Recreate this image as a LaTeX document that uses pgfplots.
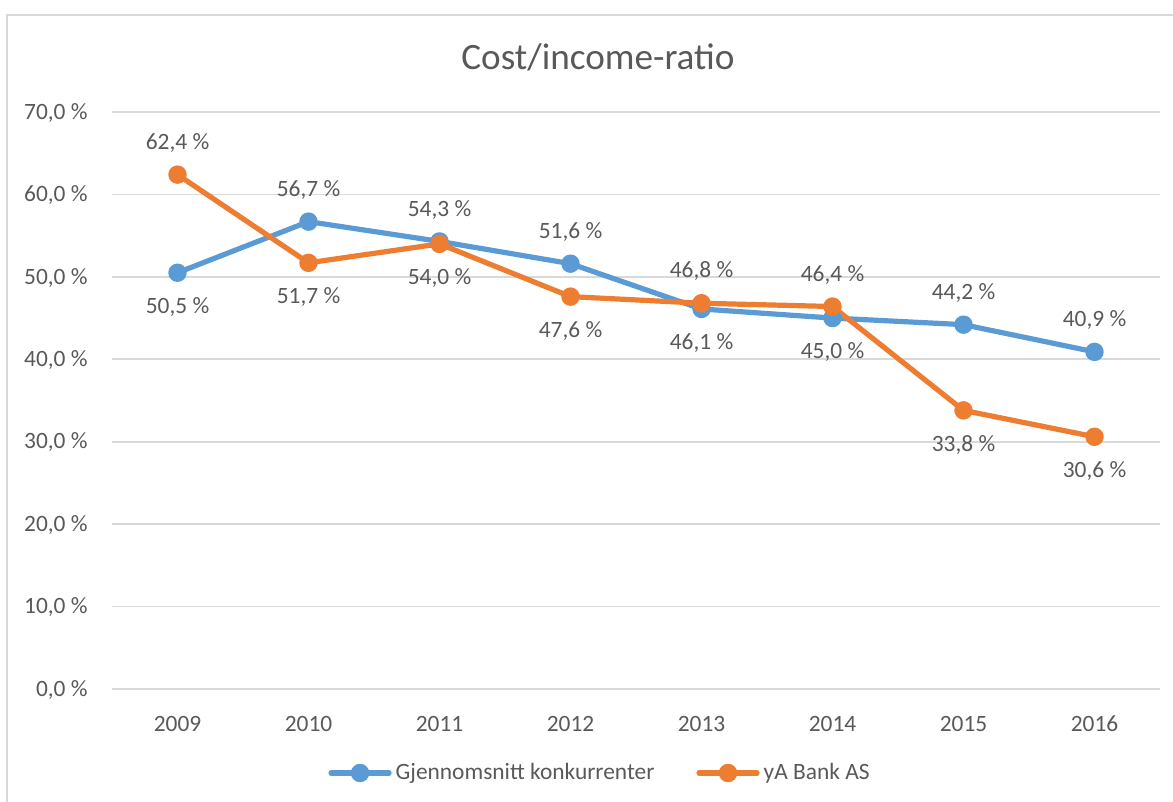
\documentclass[border=0pt]{standalone}
\usepackage{pgfplots}
\usepackage{pgfplotstable}
\pgfplotsset{compat=1.18}
\usepackage{fontspec}
\setmainfont{Carlito}
\definecolor{cblue}{HTML}{5B9BD5}
\definecolor{corange}{HTML}{ED7D31}
\definecolor{ctext}{HTML}{595959}
\definecolor{cgrid}{HTML}{D9D9D9}
\newcommand\lblfont{\fontsize{11.7}{14}\selectfont}

\pgfplotstableread{
x y a
0 50.5 -1
1 56.7 1
2 54.3 1
3 51.6 1
4 46.1 -1
5 45.0 -1
6 44.2 1
7 40.9 1
}\bluedata
\pgfplotstableread{
x y a
0 62.4 1
1 51.7 -1
2 54.0 -1
3 47.6 -1
4 46.8 1
5 46.4 1
6 33.8 -1
7 30.6 -1
}\orangedata

\begin{document}
\begin{tikzpicture}
\useasboundingbox (0,0) rectangle (586.5pt,401pt);
\draw[cgrid, line width=0.9pt] (3.5pt,0) -- (3.5pt,393.5pt) -- (586.5pt,393.5pt);
\node[ctext, anchor=base, inner sep=0pt, font=\fontsize{18.6}{22}\selectfont] at (299pt,366pt) {Cost/income-ratio};
\begin{axis}[
  at={(56pt,56.5pt)}, anchor=south west,
  scale only axis, width=524pt, height=288.5pt,
  xmin=-0.5, xmax=7.5, ymin=0, ymax=70,
  xtick={0,1,2,3,4,5,6,7},
  xticklabels={2009,2010,2011,2012,2013,2014,2015,2016},
  ytick={0,10,20,30,40,50,60,70},
  yticklabels={{0,0 \%},{10,0 \%},{20,0 \%},{30,0 \%},{40,0 \%},{50,0 \%},{60,0 \%},{70,0 \%}},
  axis line style={draw=none},
  major tick length=0pt,
  ymajorgrids, grid style={cgrid, line width=0.8pt},
  tick label style={ctext, font=\lblfont, inner sep=0pt},
  xticklabel style={anchor=base, yshift=-21.5pt},
  yticklabel style={anchor=mid east, xshift=-12pt, yshift=-1.2pt},
  clip=false,
  legend style={draw=none, fill=none, at={(0.4666,-0.1456)}, anchor=center,
    legend columns=2, font=\lblfont, text=ctext,
    /tikz/every even column/.append style={column sep=19pt}},
  legend cell align=left,
  legend image code/.code={\draw[mark repeat=2,mark phase=2,#1] plot coordinates {(0pt,0pt)(14.5pt,0pt)(29pt,0pt)};},
  every axis plot/.append style={line width=2.6pt, line join=round, line cap=round, mark=*, mark size=3.3pt},
  nodes near coords={\pgfmathprintnumber[assume math mode=true,fixed,fixed zerofill,precision=1,use comma]{\pgfplotspointmeta}~\%},
  point meta=y,
  visualization depends on={\thisrow{a} \as \pos},
  every node near coord/.append style={anchor=center, yshift=\pos*16.5pt-0.6pt, text=ctext, font=\lblfont, inner sep=0pt},
]
\addplot[cblue, mark options={solid, draw=none, fill=cblue}] table[x=x,y=y]{\bluedata};
\addlegendentry{Gjennomsnitt konkurrenter}
\addplot[corange, mark options={solid, draw=none, fill=corange}] table[x=x,y=y]{\orangedata};
\addlegendentry{yA Bank AS}
\end{axis}
\end{tikzpicture}
\end{document}
